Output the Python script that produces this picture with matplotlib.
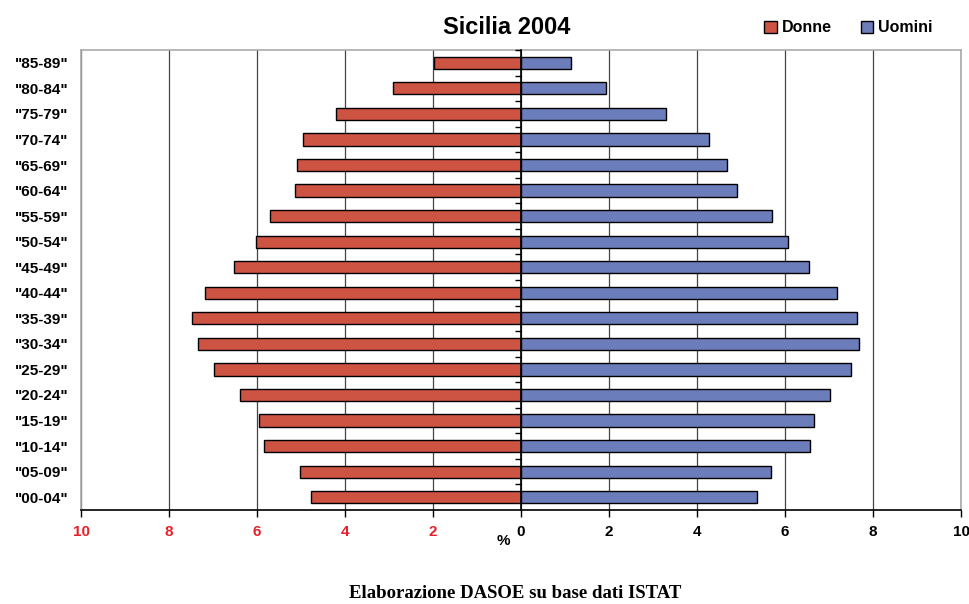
import matplotlib
matplotlib.use("Agg")
import matplotlib.pyplot as plt
import numpy as np

# classi di eta' (dal basso verso l'alto)
classi = ['"00-04"', '"05-09"', '"10-14"', '"15-19"', '"20-24"', '"25-29"',
          '"30-34"', '"35-39"', '"40-44"', '"45-49"', '"50-54"', '"55-59"',
          '"60-64"', '"65-69"', '"70-74"', '"75-79"', '"80-84"', '"85-89"']
donne = [4.77, 5.02, 5.84, 5.95, 6.39, 6.98, 7.34, 7.48, 7.18, 6.52, 6.02,
         5.70, 5.14, 5.09, 4.95, 4.20, 2.91, 1.98]
uomini = [5.36, 5.68, 6.57, 6.66, 7.02, 7.50, 7.68, 7.64, 7.18, 6.55, 6.07,
          5.70, 4.91, 4.68, 4.27, 3.30, 1.93, 1.14]
xticks = [-10, -8, -6, -4, -2, 0, 2, 4, 6, 8, 10]

rosso = '#CD5343'
blu = '#6B7DBA'

plt.rcParams['font.family'] = ['Liberation Sans', 'DejaVu Sans']
plt.rcParams['font.weight'] = 'bold'

fig = plt.figure(figsize=(9.69, 6.04), dpi=100)
ax = fig.add_axes([81/969, 1-510/604, 880/969, 460/604])

y = np.arange(len(classi))
ax.barh(y, -np.array(donne), height=0.48, color=rosso, edgecolor='black',
        linewidth=1.0, label='Donne', zorder=3)
ax.barh(y, uomini, height=0.48, color=blu, edgecolor='black',
        linewidth=1.0, label='Uomini', zorder=3)

ax.set_xlim(-10, 10)
ax.set_ylim(-0.5, len(classi) - 0.5)
ax.set_xticks(xticks)
ax.set_xticklabels([str(abs(v)) for v in xticks], fontsize=11, fontweight='bold')
for lab, v in zip(ax.get_xticklabels(), xticks):
    lab.set_color('#E8202A' if v < 0 else 'black')
ax.tick_params(axis='x', direction='out', length=5, width=1, pad=6)
ax.set_yticks(y)
ax.set_yticklabels(classi, fontsize=11, fontweight='bold')
ax.tick_params(axis='y', length=0, pad=9)

ax.grid(axis='x', color='#444444', linewidth=0.9, zorder=0)
for s in ['top', 'right', 'left']:
    ax.spines[s].set_color('#AAAAAA')
    ax.spines[s].set_linewidth(1.2)
ax.spines['bottom'].set_color('black')
ax.spines['bottom'].set_linewidth(1.2)

# asse delle categorie al centro
ax2 = ax.twinx()
ax2.set_ylim(ax.get_ylim())
ax2.yaxis.tick_left()
ax2.spines['left'].set_position(('data', 0))
ax2.spines['left'].set_color('black')
ax2.spines['left'].set_linewidth(1.2)
ax2.spines['left'].set_zorder(4)
for s in ['top', 'right', 'bottom']:
    ax2.spines[s].set_visible(False)
ax2.set_yticks(np.arange(len(classi)) + 0.5)
ax2.set_yticklabels([])
ax2.tick_params(axis='y', direction='out', length=4, width=1)

fig.text(507/969, 1-28/604, 'Sicilia 2004', ha='center', va='center',
         fontsize=17, fontweight='bold')
ax.text(-0.25, -0.068, '%', transform=ax.get_xaxis_transform(), ha='right',
        va='center', fontsize=11, fontweight='bold')
ax.legend(loc='upper right', bbox_to_anchor=(947/969, 1-6/604),
          bbox_transform=fig.transFigure, ncol=2, frameon=False,
          handlelength=0.8, handleheight=0.8, handletextpad=0.3,
          columnspacing=1.8, prop={'weight': 'bold', 'size': 11.5})
fig.text(515/969, 1-594/604, 'Elaborazione DASOE su base dati ISTAT',
         ha='center', va='center', fontsize=13.5, fontweight='bold',
         family=['Liberation Serif', 'DejaVu Serif'])

fig.savefig('out.png', dpi=100)
